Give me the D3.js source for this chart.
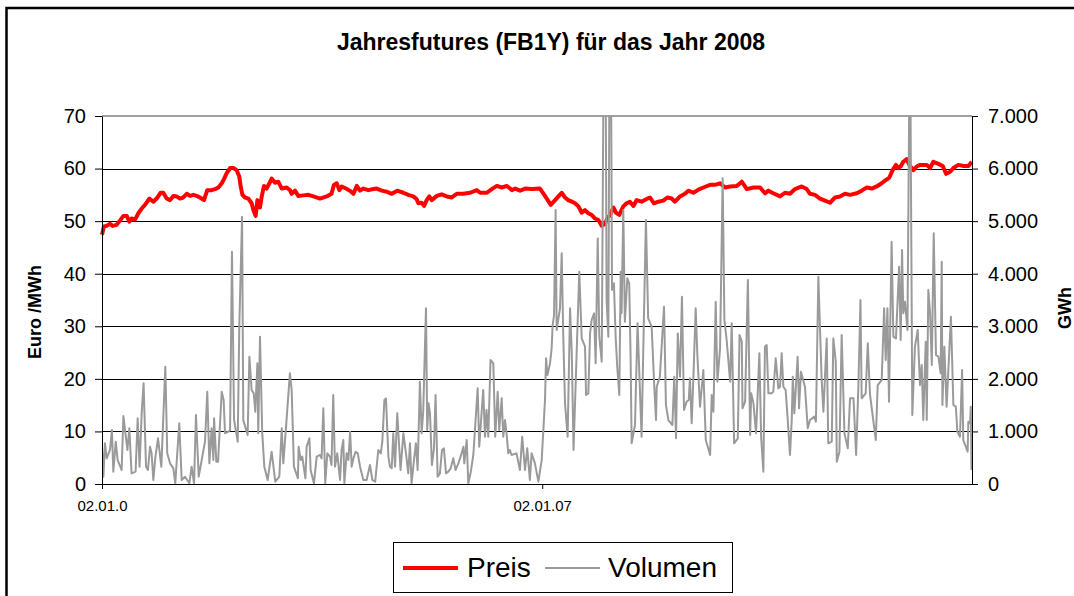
<!DOCTYPE html>
<meta charset="utf-8">
<script src="https://d3js.org/d3.v7.min.js"></script>
<style>
    body { margin: 0; background: #fff; }
    text { font-family: "Liberation Sans", Arial, sans-serif; }
</style>
<div id="chart"></div>

<script>
    // Preis: [trading day, Euro/MWh]
    const preis = [
        [0,47.4],[1.1,49.0],[2.7,49.1],[4.6,49.5],[6.1,49.1],[8.4,49.3],[10.3,50.1],[12.3,51.0],[14.2,51.0],[15.7,49.9],
        [17.0,50.5],[19.0,50.3],[20.9,51.5],[22.8,52.4],[24.7,53.1],[27.2,54.3],[29.5,53.7],[31.4,54.3],[33.7,55.4],[35.2,55.4],
        [37.2,54.3],[39.1,54.0],[41.0,54.8],[42.9,54.7],[44.8,54.3],[46.7,54.5],[48.7,55.2],[50.6,54.8],[52.5,55.0],[54.4,54.8],
        [56.3,54.5],[58.6,54.0],[60.5,55.9],[63.0,55.9],[65.0,56.1],[66.9,56.4],[68.8,57.2],[70.1,58.0],[71.6,59.1],[73.6,60.1],
        [75.5,60.1],[77.4,59.7],[78.9,58.5],[79.7,56.6],[80.7,55.0],[82.2,54.5],[84.1,54.3],[86.0,53.4],[87.0,52.1],[88.3,51.0],
        [89.3,54.0],[90.8,52.6],[91.8,54.7],[93.1,56.7],[94.6,56.2],[96.2,57.2],[97.5,58.1],[99.4,57.3],[101.3,57.5],[103.3,56.2],
        [106.1,56.4],[108.0,55.9],[109.0,55.2],[110.9,55.8],[112.8,54.8],[115.7,54.9],[118.6,55.0],[121.5,54.7],[125.3,54.3],
        [129.1,54.7],[131.9,55.2],[133.3,56.9],[134.9,57.2],[136.4,55.9],[137.7,56.6],[140.2,56.2],[142.5,55.8],[144.5,55.2],
        [146.4,56.7],[148.3,55.8],[150.2,56.2],[153.1,55.9],[156.0,56.1],[157.9,56.2],[160.8,55.8],[163.6,55.6],[166.5,55.2],
        [169.7,55.8],[173.2,55.4],[176.0,55.0],[178.9,54.7],[180.8,54.2],[181.8,53.4],[183.7,53.5],[185.1,52.9],[186.6,54.0],
        [188.1,54.7],[189.5,54.0],[192.4,54.8],[195.2,55.1],[198.1,54.7],[201.0,54.5],[203.9,55.2],[207.7,55.2],[211.6,55.4],
        [215.4,55.9],[217.3,55.4],[221.2,55.4],[224.0,56.1],[226.9,56.7],[229.8,56.4],[232.7,56.7],[235.6,55.9],[237.5,56.2],
        [240.3,55.8],[243.2,56.2],[247.1,56.1],[251.7,56.2],
        [253.6,55.3],[255.6,54.3],[257.9,53.1],[260.4,54.0],[262.3,54.7],[264.2,55.4],[266.1,54.5],[268.0,54.0],[270.0,53.7],
        [271.9,53.4],[273.8,52.8],[275.7,51.6],[277.6,52.1],[279.5,51.5],[281.4,51.2],[283.4,50.5],[285.3,50.2],[287.2,49.1],
        [289.1,49.5],[290.4,50.5],[292.0,51.2],[293.9,52.6],[295.4,51.6],[297.3,51.2],[299.6,52.8],[301.5,53.4],[303.4,53.7],
        [305.4,52.9],[307.3,54.0],[310.1,53.7],[313.0,54.2],[314.9,54.5],[317.2,53.4],[319.7,53.7],[322.6,53.9],[324.9,54.5],
        [327.4,54.3],[329.3,53.7],[332.2,54.7],[335.0,55.2],[337.0,55.8],[339.9,55.4],[342.8,56.0],[345.6,56.4],[349.5,56.9],
        [352.4,56.9],[355.2,57.2],[358.1,56.4],[361.0,56.6],[364.8,56.7],[367.7,57.5],[370.6,56.1],[374.4,56.4],
        [378.2,56.4],[381.0,55.3],[383.0,55.8],[385.8,55.3],[389.7,54.7],[392.5,55.4],[395.4,55.2],[398.3,56.1],[402.1,56.6],
        [405.0,56.1],[406.9,55.2],[409.8,55.0],[412.6,54.3],[415.5,53.9],[418.4,53.5],[421.3,54.5],[424.1,54.7],[427.0,55.2],
        [429.9,55.0],[433.7,55.3],[436.6,55.8],[439.5,56.4],[442.4,56.2],[445.2,56.6],[448.1,57.2],[450.0,57.7],[452.5,58.3],
        [454.4,59.7],[456.3,60.7],[457.7,60.1],[459.0,60.4],[460.5,61.3],[462.5,61.8],[464.0,60.7],[466.3,59.7],[468.2,60.4],
        [470.1,60.7],[474.0,60.7],[475.9,60.1],[477.8,61.3],[480.7,60.9],[483.2,60.5],[485.1,59.0],[487.4,59.4],[489.3,60.1],
        [492.2,60.7],[495.1,60.5],[498.0,60.5],[499.9,61.3]
    ];

    // Volumen: [trading day, GWh]  (values above 7.000 run off the top)
    const volumen = [
        [0,710],[0.8,139],[1.7,773],[2.7,488],[4.6,647],[5.7,1027],[6.5,235],[7.9,805],[9.0,456],[11.3,266],[12.3,1293],
        [14.6,647],[15.7,1059],[17.0,203],[19.3,235],[20.5,1249],[21.6,330],[22.8,1344],[23.9,1915],[25.3,330],[26.4,266],
        [27.6,710],[28.5,583],[29.5,76],[30.7,520],[32.2,869],[34.1,330],[36.4,2232],[37.5,583],[39.1,393],[41.0,298],[42.1,13],
        [44.4,1154],[45.8,76],[47.7,139],[50.2,13],[51.5,330],[52.9,13],[54.0,1312],[55.6,139],[57.3,456],[59.2,805],[60.5,1756],
        [61.7,393],[63.0,1059],[64.0,456],[64.4,1249],[65.7,425],[66.7,425],[68.8,1756],[69.9,1598],[70.7,964],[72.6,995],
        [73.6,1027],[74.7,4419],[75.9,1217],[78.0,805],[78.9,2992],[80.5,5085],[81.2,1217],[83.7,932],[84.7,2422],[86.0,1788],
        [87.2,1724],[88.1,1376],[89.3,2295],[89.8,964],[90.8,2802],[92.1,964],[93.3,330],[95.2,76],[97.5,615],[99.6,44],
        [101.9,139],[103.3,1059],[104.2,393],[105.7,1059],[108.0,2105],[109.0,1788],[110.3,330],[112.6,108],[113.0,710],
        [114.2,456],[115.1,520],[116.9,108],[117.6,710],[119.2,869],[119.9,266],[121.8,13],[123.4,520],[125.3,552],
        [126.2,488],[127.2,1439],[128.3,13],[129.5,583],[131.0,520],[131.9,361],[132.9,1693],[133.9,330],[135.2,583],[136.8,76],
        [137.7,647],[138.7,837],[139.3,13],[140.6,583],[141.6,456],[142.6,995],[143.5,330],[144.5,488],[145.8,615],[147.0,583],
        [148.3,330],[150.2,76],[152.1,76],[154.0,361],[155.4,76],[157.0,44],[158.8,647],[160.2,583],[161.1,805],[162.3,1598],
        [163.2,1629],[164.6,520],[165.5,330],[166.5,298],[167.4,964],[168.4,330],[169.7,1344],[170.9,647],[171.6,266],[173.2,964],
        [174.7,583],[176.0,203],[177.0,773],[177.9,13],[179.3,456],[180.4,773],[181.4,266],[182.7,1946],[183.7,964],[184.6,1376],
        [186.2,3341],[186.9,1027],[187.7,1534],[188.5,1344],[189.6,361],[190.8,678],[191.7,1693],[192.9,139],[194.2,203],
        [195.4,647],[196.5,678],[197.7,203],[199.0,235],[200.4,298],[201.9,488],[203.2,266],[204.8,393],[206.1,520],[207.7,710],
        [208.2,393],[209.6,837],[210.5,13],[211.8,203],[213.4,552],[214.7,1217],[215.9,1820],[216.8,710],[218.2,1376],[219.1,1788],
        [220.1,900],[221.0,1408],[222.0,900],[223.3,2359],[224.9,2295],[226.0,900],[227.4,1756],[228.3,1027],[229.7,1629],
        [230.6,900],[231.6,1217],[232.5,964],[233.5,583],[234.4,647],[235.4,552],[238.2,583],[240.2,266],[241.5,900],[243.1,266],
        [244.4,678],[245.9,76],[246.9,583],[248.8,393],
        [250.8,44],[252.7,456],[254.6,1598],[255.2,2390],[256.0,2073],[257.5,2295],[258.4,2580],[259.0,3024],[259.8,3214],
        [260.7,5211],[261.3,2929],[263.2,3341],[264.2,4387],[265.1,2802],[266.1,1534],[267.6,900],[269.0,3341],[270.0,2485],
        [271.0,647],[272.9,2612],[274.3,4038],[275.7,2770],[277.6,2612],[278.2,1693],[279.5,1724],[280.5,2865],[281.4,3119],
        [282.8,3246],[283.7,2295],[284.9,4672],[285.8,2802],[287.2,2327],[288.2,7600],[289.5,7600],[290.0,3500],[291.0,2802],
        [291.6,7600],[292.6,7600],[293.1,3690],[294.2,3817],[295.2,2802],[296.1,2232],[297.3,1693],[298.1,4038],[298.6,3246],
        [299.6,5211],[300.5,3088],[301.9,3912],[303.0,3817],[303.8,2390],[304.4,773],[306.3,1122],[307.8,3056],[310.1,900],
        [311.5,3246],[312.6,5021],[313.9,3151],[315.9,2992],[317.4,1851],[318.4,1217],[318.8,1851],[320.6,2041],[323.0,3373],
        [324.1,1503],[325.5,1217],[327.8,1122],[328.9,2041],[329.9,869],[330.9,2865],[332.2,2041],[333.3,3563],[334.5,1408],
        [336.0,1566],[337.2,1598],[337.9,2010],[338.9,1154],[339.9,2041],[341.2,3341],[342.2,2422],[343.7,1471],[345.6,2168],
        [347.0,837],[349.5,552],[350.4,1693],[351.4,1376],[352.7,3468],[353.7,1946],[355.2,2580],[356.7,5814],[357.7,3119],
        [359.0,2739],[361.0,1946],[361.9,3056],[363.3,773],[365.4,869],[366.4,2834],[367.7,2707],[368.1,1439],[369.6,1566],
        [371.2,3880],[372.5,932],[373.1,1724],[374.4,1534],[375.9,964],
        [377.8,2485],[378.8,900],[380.1,235],[381.0,2612],[382.0,2644],[383.0,1724],[384.9,1724],[385.8,1756],[387.2,2390],
        [388.7,1820],[389.7,1851],[390.6,2485],[391.6,1851],[392.9,1788],[394.1,1217],[395.4,552],[396.4,1217],[397.0,2041],
        [397.9,1344],[399.8,2422],[400.6,1439],[401.7,2137],[404.0,1851],[405.6,1059],[406.9,1217],[409.4,1281],[410.3,1186],
        [411.7,3944],[413.6,1978],[414.6,1376],[416.5,2770],[417.4,773],[419.4,805],[420.3,2770],[421.7,2327],[422.3,425],
        [423.8,615],[425.1,2834],[426.7,964],[428.6,678],[429.9,1629],[431.9,1629],[433.4,552],[434.7,1851],[435.9,3500],
        [436.6,1629],[438.9,1724],[440.1,2675],[441.4,1693],[444.7,837],[445.8,1883],[448.1,1978],[449.5,3341],[450.4,2359],
        [451.4,3341],[452.3,1566],[453.8,4609],[454.8,2802],[456.3,2770],[458.1,4134],[459.0,2739],[459.8,4451],[460.5,3246],
        [461.5,3468],[462.9,2929],[464.0,7600],[464.6,7600],[465.7,1312],[467.2,2612],[468.8,2929],[470.1,1883],[471.1,2263],
        [472.0,1217],[473.4,2707],[474.0,1217],[474.9,3690],[475.9,3246],[476.9,2263],[478.0,4768],[479.3,2454],[480.7,2422],
        [482.0,2105],[482.6,4229],[483.0,1503],[484.1,2612],[485.4,1471],[487.9,3183],[489.3,1503],[490.7,1471],[491.6,995],
        [493.1,900],[494.3,2168],[495.0,837],[497.5,615],[497.9,1186],[498.9,1154],[499.3,1471],[499.7,266]
    ];

    const leftTicks = [0, 10, 20, 30, 40, 50, 60, 70];
    const rightTicks = [0, 1000, 2000, 3000, 4000, 5000, 6000, 7000];
    const xTickDays = [0, 253];
    const xTickLabels = ["02.01.0", "02.01.07"];
    const nDays = 500;

    const W = 1074, H = 596;
    const plot = { left: 102, right: 972, top: 116, bottom: 484 };

    const svg = d3.select("#chart")
        .append("svg")
        .attr("width", W)
        .attr("height", H);

    // outer frame
    svg.append("rect")
        .attr("x", 6.5).attr("y", 8)
        .attr("width", W + 20).attr("height", H + 20)
        .attr("fill", "#fff")
        .attr("stroke", "#000")
        .attr("stroke-width", 2.5);

    const x = d3.scaleLinear().domain([0, nDays]).range([plot.left, plot.right]);
    const yL = d3.scaleLinear().domain([0, 70]).range([plot.bottom, plot.top]);
    const yR = d3.scaleLinear().domain([0, 7000]).range([plot.bottom, plot.top]);

    const de = d3.formatLocale({ decimal: ",", thousands: ".", grouping: [3], currency: ["", " €"] });

    // gridlines
    svg.append("g")
        .selectAll("line")
        .data(leftTicks.filter(d => d > 0 && d < 70))
        .join("line")
        .attr("x1", plot.left).attr("x2", plot.right)
        .attr("y1", d => Math.round(yL(d)) + 0.5).attr("y2", d => Math.round(yL(d)) + 0.5)
        .attr("stroke", "#000")
        .attr("stroke-width", 1);

    // top border of plot area
    svg.append("line")
        .attr("x1", plot.left).attr("x2", plot.right)
        .attr("y1", plot.top).attr("y2", plot.top)
        .attr("stroke", "#a0a0a0")
        .attr("stroke-width", 2);

    svg.append("clipPath").attr("id", "clip")
        .append("rect")
        .attr("x", plot.left).attr("y", plot.top)
        .attr("width", plot.right - plot.left).attr("height", plot.bottom - plot.top);

    // Preis
    svg.append("path")
        .datum(preis)
        .attr("fill", "none")
        .attr("stroke", "#ff0000")
        .attr("stroke-width", 4)
        .attr("stroke-linejoin", "round")
        .attr("d", d3.line().x(d => x(d[0])).y(d => yL(d[1])));

    // Volumen
    svg.append("path")
        .datum(volumen)
        .attr("clip-path", "url(#clip)")
        .attr("fill", "none")
        .attr("stroke", "#9a9a9a")
        .attr("stroke-width", 2)
        .attr("stroke-linejoin", "round")
        .attr("d", d3.line().x(d => x(d[0])).y(d => yR(d[1])));

    // left axis
    const axL = svg.append("g")
        .attr("transform", `translate(${plot.left},0)`)
        .call(d3.axisLeft(yL).tickValues(leftTicks).tickSize(7).tickPadding(9).tickSizeOuter(0));

    // right axis
    const axR = svg.append("g")
        .attr("transform", `translate(${plot.right},0)`)
        .call(d3.axisRight(yR).tickValues(rightTicks).tickSize(6).tickPadding(10).tickSizeOuter(0)
            .tickFormat(de.format(",")));

    // x axis
    const axX = svg.append("g")
        .attr("transform", `translate(0,${plot.bottom})`)
        .call(d3.axisBottom(x).tickValues(xTickDays).tickSize(5).tickPadding(11).tickSizeOuter(0)
            .tickFormat((d, i) => xTickLabels[i]));

    [axL, axR].forEach(a => {
        a.selectAll("text").attr("font-size", 20).attr("fill", "#000")
            .style("font-family", "'Liberation Sans', Arial, sans-serif");
        a.selectAll("line,path").attr("stroke", "#000");
    });
    axX.selectAll("text").attr("font-size", 15).attr("fill", "#000")
        .style("font-family", "'Liberation Sans', Arial, sans-serif");
    axX.selectAll("line,path").attr("stroke", "#000");

    // title
    svg.append("text")
        .attr("x", 551).attr("y", 50)
        .attr("text-anchor", "middle")
        .attr("font-size", 23)
        .attr("font-weight", "bold")
        .text("Jahresfutures (FB1Y) für das Jahr 2008");

    // axis titles
    svg.append("text")
        .attr("transform", "translate(41,312) rotate(-90)")
        .attr("text-anchor", "middle")
        .attr("font-size", 18)
        .attr("font-weight", "bold")
        .text("Euro /MWh");

    svg.append("text")
        .attr("transform", "translate(1071,308) rotate(-90)")
        .attr("text-anchor", "middle")
        .attr("font-size", 18)
        .attr("font-weight", "bold")
        .text("GWh");

    // legend
    const lg = svg.append("g");
    lg.append("rect")
        .attr("x", 393.5).attr("y", 542.5)
        .attr("width", 339).attr("height", 50)
        .attr("fill", "#fff")
        .attr("stroke", "#000");
    lg.append("line")
        .attr("x1", 403).attr("x2", 458).attr("y1", 568).attr("y2", 568)
        .attr("stroke", "#ff0000").attr("stroke-width", 4);
    lg.append("text")
        .attr("x", 467).attr("y", 577)
        .attr("font-size", 28)
        .text("Preis");
    lg.append("line")
        .attr("x1", 545).attr("x2", 600).attr("y1", 568).attr("y2", 568)
        .attr("stroke", "#9a9a9a").attr("stroke-width", 2);
    lg.append("text")
        .attr("x", 608).attr("y", 577)
        .attr("font-size", 28)
        .text("Volumen");
</script>
